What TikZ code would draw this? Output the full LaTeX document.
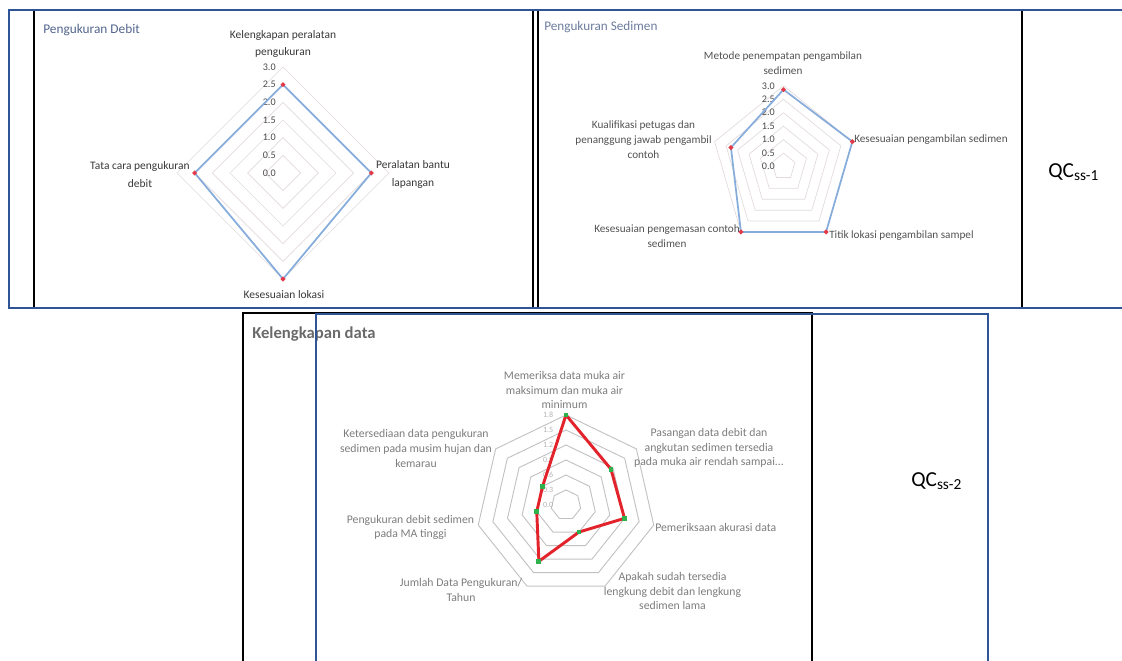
\documentclass[tikz,border=0pt]{standalone}
\usepackage{fontspec}
\setmainfont{Carlito}
\usepackage{tikz}
\usetikzlibrary{shapes.geometric}
\definecolor{tblblue}{HTML}{2E5597}
\definecolor{serblue}{HTML}{86ACDB}
\definecolor{mkred}{HTML}{E23A48}
\definecolor{serred}{HTML}{E3232C}
\definecolor{mkgreen}{HTML}{2FB24C}
\definecolor{ringgray}{HTML}{E2DADA}
\definecolor{ringdark}{HTML}{C2C2C2}
\definecolor{ttlblue}{HTML}{52658C}
\definecolor{ttlgray}{HTML}{6A6A6A}
\definecolor{txtgray}{HTML}{7C7C7C}
\tikzstyle{tbl} = [draw=tblblue,line width=2pt]
\tikzstyle{frm} = [draw=black,line width=1.4pt]
\tikzstyle{ring} = [draw=ringgray,line width=0.5pt]
\tikzstyle{ringdk} = [draw=ringdark,line width=0.7pt]
\tikzstyle{serb} = [draw=serblue,line width=1.3pt,line join=round]
\tikzstyle{serr} = [draw=serred,line width=2.2pt,line join=round]
\tikzstyle{redmk} = [diamond,fill=mkred,inner sep=0pt,minimum size=4pt]
\tikzstyle{grnmk} = [rectangle,fill=mkgreen,inner sep=0pt,minimum size=3.6pt]
\tikzstyle{ttl} = [inner sep=0pt,anchor=west]
\tikzstyle{lbla} = [font=\fontsize{8.6}{13.3}\selectfont,text=black!78,align=center,inner sep=0pt]
\tikzstyle{lblb} = [font=\fontsize{8.4}{11.2}\selectfont,text=black!68,align=center,inner sep=0pt]
\tikzstyle{lblc} = [font=\fontsize{8.8}{11.1}\selectfont,text=txtgray,align=center,inner sep=0pt]
\tikzstyle{ticklbl} = [font=\fontsize{7.6}{9}\selectfont,text=black!70,inner sep=0pt,anchor=east]
\tikzstyle{qc} = [font=\fontsize{16}{19}\selectfont,inner sep=0pt,anchor=west]
\newcommand{\qcsub}[1]{QC\raisebox{-2.6pt}{\fontsize{11.5}{13}\selectfont #1}}

\begin{document}
\begin{tikzpicture}[x=0.75pt,y=-0.75pt]
  \useasboundingbox (0,0) rectangle (1122,661);

  % chart frames
  \draw[frm] (34,10) rectangle (533,308);
  \draw[frm] (538,10) rectangle (1022,308);
  \draw[frm] (243,670) -- (243,313) -- (812,313) -- (812,670);

  %----- Pengukuran Debit
  \node[ttl,font=\fontsize{10}{12}\selectfont,text=ttlblue] (t1) at (43,30) {Pengukuran Debit};
  \begin{scope}[shift={(283,173)},x=26.5pt,y=26.5pt]
    \foreach \r in {0.5,1,1.5,2,2.5,3}
      \draw[ring] (90:\r) -- (0:\r) -- (-90:\r) -- (180:\r) -- cycle;
    \foreach \v/\t in {0/0.0,0.5/0.5,1/1.0,1.5/1.5,2/2.0,2.5/2.5,3/3.0}
      \node[ticklbl] at (-0.2,\v) {\t};
    \coordinate (d1) at (90:2.5);
    \coordinate (d2) at (0:2.5);
    \coordinate (d3) at (-90:3);
    \coordinate (d4) at (180:2.5);
    \draw[serb] (d1) -- (d2) -- (d3) -- (d4) -- cycle;
    \foreach \p in {d1,d2,d3,d4} \node[redmk] at (\p) {};
  \end{scope}
  \node[lbla] (a1) at (283,44) {Kelengkapan peralatan\\pengukuran};
  \node[lbla] (a2) at (413,174.5) {Peralatan bantu\\lapangan};
  \node[lbla] (a3) at (140,174.5) {Tata cara pengukuran\\debit};
  \node[lbla] (a4) at (284,295) {Kesesuaian lokasi};

  %----- Pengukuran Sedimen
  \node[ttl,font=\fontsize{9.9}{12}\selectfont,text=ttlblue!85] (t2) at (544,27) {Pengukuran Sedimen};
  \begin{scope}[shift={(783.5,166.6)},x=18.1pt,y=20.2pt]
    \foreach \r in {0.5,1,1.5,2,2.5,3}
      \draw[ring] (90:\r) -- (18:\r) -- (-54:\r) -- (-126:\r) -- (162:\r) -- cycle;
    \foreach \v/\t in {0/0.0,0.5/0.5,1/1.0,1.5/1.5,2/2.0,2.5/2.5,3/3.0}
      \node[ticklbl] at (-0.35,\v) {\t};
    \coordinate (s1) at (90:2.86);
    \coordinate (s2) at (18:3);
    \coordinate (s3) at (-54:3);
    \coordinate (s4) at (-126:3);
    \coordinate (s5) at (162:2.29);
    \draw[serb] (s1) -- (s2) -- (s3) -- (s4) -- (s5) -- cycle;
    \foreach \p in {s1,s2,s3,s4,s5} \node[redmk] at (\p) {};
  \end{scope}
  \node[lblb] (b1) at (783,63.5) {Metode penempatan pengambilan\\sedimen};
  \node[lblb,anchor=west] (b2) at (854,140) {Kesesuaian pengambilan sedimen};
  \node[lblb,anchor=west] (b3) at (829,236) {Titik lokasi pengambilan sampel};
  \node[lblb] (b4) at (667,236.5) {Kesesuaian pengemasan contoh\\sedimen};
  \node[lblb] (b5) at (643.5,140) {Kualifikasi petugas dan\\penanggung jawab pengambil\\contoh};

  %----- Kelengkapan data
  \node[ttl,font=\fontsize{12.5}{15}\selectfont\bfseries,text=ttlgray] (t3) at (252,334) {Kelengkapan data};
  \begin{scope}[shift={(566,505)},x=37.5pt,y=37.5pt]
    \foreach \k in {1,...,6} {
      \pgfmathsetmacro\rr{\k*0.3}
      \draw[ringdk] (90:\rr) \foreach \a in {1,...,6} {-- ({90-\a*360/7}:\rr)} -- cycle;
    }
    \foreach \v/\t in {0/0.0,0.3/0.3,0.6/0.6,0.9/0.9,1.2/1.2,1.5/1.5,1.8/1.8}
      \node[ticklbl,font=\fontsize{6}{7}\selectfont,text=gray!60] at (-0.25,\v) {\t};
    \foreach \v [count=\i from 0] in {1.8,1.15,1.2,0.6,1.25,0.6,0.6}
      \coordinate (k\i) at ({90-\i*360/7}:\v);
    \draw[serr] (k0) -- (k1) -- (k2) -- (k3) -- (k4) -- (k5) -- (k6) -- cycle;
    \foreach \i in {0,...,6} \node[grnmk] at (k\i) {};
  \end{scope}
  \node[lblc] (c1) at (564.5,390) {Memeriksa data muka air\\maksimum dan muka air\\minimum};
  \node[lblc] (c2) at (709,448) {Pasangan data debit dan\\angkutan sedimen tersedia\\pada muka air rendah sampai...};
  \node[lblc,anchor=west] (c3) at (655,527) {Pemeriksaan akurasi data};
  \node[lblc] (c4) at (672.5,591) {Apakah sudah tersedia\\lengkung debit dan lengkung\\sedimen lama};
  \node[lblc] (c5) at (461,590) {Jumlah Data Pengukuran/\\Tahun};
  \node[lblc] (c6) at (410.5,527.5) {Pengukuran debit sedimen\\pada MA tinggi};
  \node[lblc] (c7) at (416,448.5) {Ketersediaan data pengukuran\\sedimen pada musim hujan dan\\kemarau};

  % table lines
  \draw[tbl] (1122,10) -- (9,10) -- (9,308) -- (1122,308);
  \draw[tbl] (316,670) -- (316,314) -- (988,314) -- (988,670);

  % QC labels
  \node[qc] (q1) at (1048,172) {\qcsub{ss-1}};
  \node[qc] (q2) at (911,481) {\qcsub{ss-2}};
\end{tikzpicture}
\end{document}
